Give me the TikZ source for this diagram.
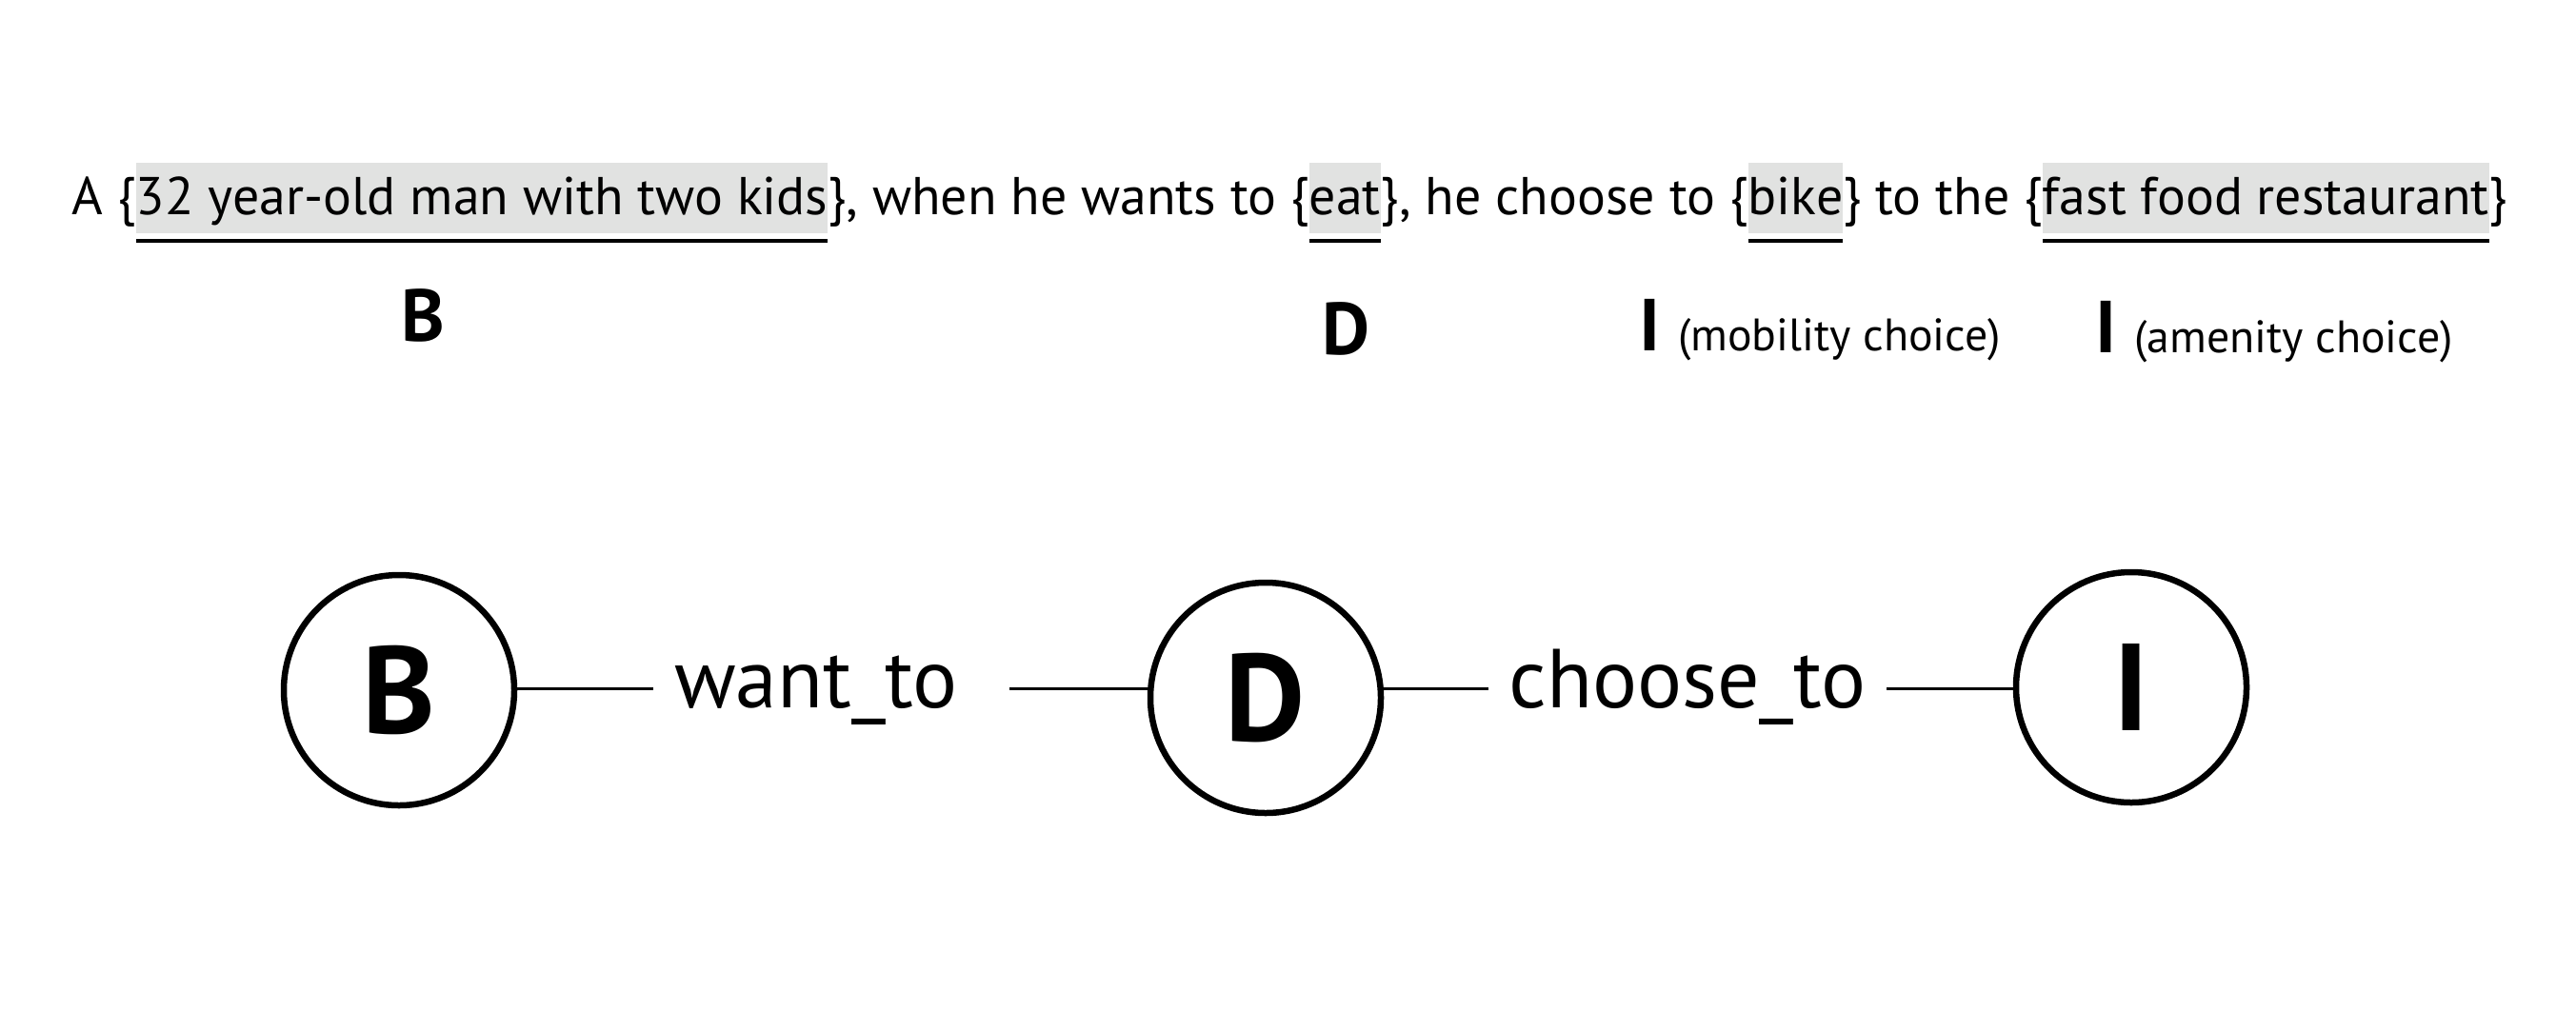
\documentclass[tikz,border=0pt]{standalone}
\usepackage{fontspec}
\setmainfont{PT Sans}
\usetikzlibrary{positioning}
\definecolor{hlgray}{HTML}{E1E2E1}
\tikzset{
  word/.style={inner sep=0pt, outer sep=0pt, text height=0.54cm, text depth=0.2cm, font=\fontsize{15.9}{18}\selectfont},
  hl/.style={word, fill=hlgray},
  uline/.style={line width=0.04cm},
  tag/.style={inner sep=0pt, font=\bfseries\fontsize{22}{24}\selectfont},
  note/.style={inner sep=0pt, font=\fontsize{13.6}{15}\selectfont},
  ent/.style={circle, draw, line width=0.065cm, minimum size=2.42cm, inner sep=0pt, font=\bfseries\fontsize{37}{40}\selectfont},
  rel/.style={inner sep=0pt, text height=0.4cm, text depth=0cm, font=\fontsize{25}{28}\selectfont},
  link/.style={line width=0.03cm}
}
\begin{document}
\begin{tikzpicture}
    \useasboundingbox (0,0) rectangle (27.05,10.61);
    \node[word, anchor=base west] (s1) at (0.76,8.36) {A \{};
    \node[hl, right=0pt of s1] (kids) {32 year-old man with two kids};
    \node[word, right=0pt of kids] (s2) {\}, when he wants to \{};
    \node[hl, right=0pt of s2] (eat) {eat};
    \node[word, right=0pt of eat] (s3) {\}, he choose to \{};
    \node[hl, right=0pt of s3] (bike) {bike};
    \node[word, right=0pt of bike] (s4) {\} to the \{};
    \node[hl, right=0pt of s4] (food) {fast food restaurant};
    \node[word, right=0pt of food] (s5) {\}};
    \foreach \w in {kids,eat,bike,food}
      \draw[uline] ([yshift=-0.08cm]\w.south west) -- ([yshift=-0.08cm]\w.south east);

    \node[tag, anchor=base] (tB) at (4.44,7.03) {B};
    \node[tag, anchor=base] (tD) at (14.13,6.89) {D};
    \node[tag, anchor=base west] (tI1) at (17.21,6.93) {I};
    \node[note, right=0.17cm of tI1.base east, anchor=base west] (n1) {(mobility choice)};
    \node[tag, anchor=base west] (tI2) at (22.00,6.91) {I};
    \node[note, right=0.17cm of tI2.base east, anchor=base west] (n2) {(amenity choice)};

    \node[ent] (B) at (4.19,3.36) {B};
    \node[ent] (D) at (13.29,3.28) {D};
    \node[ent] (I) at (22.38,3.39) {I};
    \node[rel] (want) at (8.57,3.38) {want\_to};
    \node[rel] (choose) at (17.72,3.38) {choose\_to};
    \draw[link] (want.west -| B.east) -- ([xshift=-0.21cm]want.west);
    \draw[link] ([xshift=0.53cm]want.east) -- (want.east -| D.west);
    \draw[link] (choose.west -| D.east) -- ([xshift=-0.21cm]choose.west);
    \draw[link] ([xshift=0.21cm]choose.east) -- (choose.east -| I.west);
\end{tikzpicture}
\end{document}
